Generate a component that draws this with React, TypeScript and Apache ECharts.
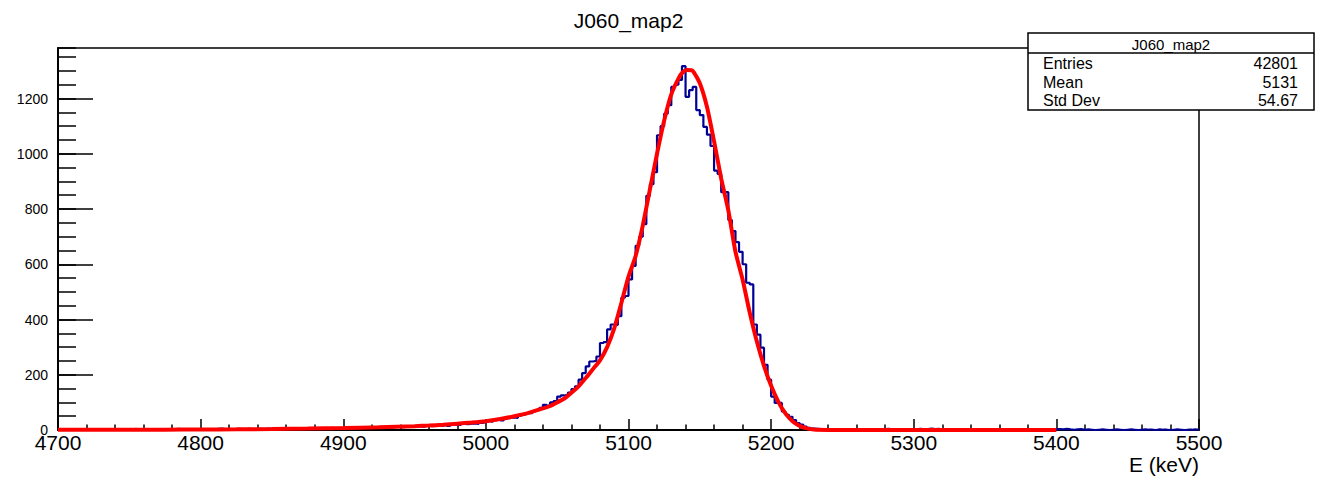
import React, { useEffect, useRef } from "react";
import * as echarts from "echarts";

// ---- data ----
const chartTitle = "J060_map2";
const xAxisName = "E (keV)";
const histLow = 4700;
const histHigh = 5500;
const binWidth = 2.5;

// 320 bins of 2.5 keV from 4700 to 5500
const binCounts = [
  // 4700-4800
  1, 0, 2, 1, 0, 1, 2, 0, 1, 3, 0, 1, 2, 1, 0, 2, 1, 3, 2, 1,
  2, 4, 1, 2, 3, 1, 0, 2, 3, 1, 2, 1, 3, 4, 2, 1, 2, 3, 1, 2,
  // 4800-4900
  2, 3, 1, 2, 4, 5, 3, 2, 2, 3, 4, 2, 3, 5, 2, 3, 4, 3, 5, 4,
  3, 4, 6, 7, 5, 4, 3, 5, 6, 4, 5, 6, 4, 7, 5, 6, 8, 6, 5, 7,
  // 4900-5000
  6, 8, 7, 5, 9, 8, 10, 7, 9, 11, 8, 10, 12, 9, 11, 13, 10, 12, 14, 11,
  13, 15, 12, 16, 14, 15, 17, 16, 18, 15, 19, 20, 18, 22, 21, 23, 24, 22, 26, 28,
  // 5000-5050
  32, 30, 36, 38, 35, 42, 44, 46, 44, 52, 55, 61, 61, 68, 72, 80, 91, 88, 100, 105,
  // 5050-5100
  121, 125, 127, 135, 148, 158, 182, 206, 230, 248, 250, 266, 315, 318, 364, 382, 380, 412, 479, 485,
  // 5100-5150
  545, 594, 667, 700, 745, 848, 890, 933, 1067, 1100, 1145, 1176, 1242, 1250, 1267, 1317, 1206, 1230, 1242, 1158,
  // 5150-5200
  1140, 1097, 1069, 1028, 939, 927, 861, 861, 760, 720, 680, 645, 600, 533, 527, 382, 345, 298, 236, 182,
  // 5200-5250
  121, 98, 98, 67, 55, 48, 36, 25, 20, 12, 8, 5, 4, 3, 2, 3, 1, 2, 1, 0,
  // 5250-5300
  2, 1, 3, 0, 1, 2, 1, 0, 2, 1, 0, 3, 4, 2, 1, 3, 2, 1, 2, 3,
  // 5300-5350
  3, 4, 2, 3, 5, 3, 4, 2, 3, 1, 2, 1, 0, 1, 2, 0, 1, 1, 0, 2,
  // 5350-5400
  1, 0, 2, 1, 0, 1, 2, 0, 1, 0, 1, 2, 1, 3, 1, 0, 1, 2, 1, 0,
  // 5400-5450
  3, 2, 4, 2, 1, 2, 3, 1, 2, 1, 0, 1, 2, 1, 0, 1, 2, 1, 0, 1,
  // 5450-5500
  2, 1, 0, 1, 2, 1, 1, 0, 2, 1, 1, 0, 1, 2, 1, 0, 1, 1, 2, 1,
];

// fitted function
const fitEnergy = [
  4700, 4725, 4750, 4775, 4800, 4825, 4850, 4875, 4900, 4925, 4950, 4960, 4970, 4980, 4990,
  5000, 5010, 5020, 5030, 5040, 5045, 5050, 5055, 5060, 5065, 5070, 5075, 5080, 5085, 5090,
  5095, 5100, 5105, 5110, 5115, 5120, 5125, 5130, 5135, 5138, 5141, 5145, 5150, 5155, 5160,
  5165, 5170, 5175, 5180, 5185, 5190, 5195, 5200, 5205, 5210, 5215, 5220, 5225, 5230, 5240,
  5250, 5300, 5350, 5400,
];
const fitValue = [
  0.5, 0.7, 1, 1.3, 1.8, 2.5, 3.5, 5, 7, 10, 14, 16, 19, 23, 27,
  32, 40, 50, 62, 78, 87, 100, 114, 135, 158, 188, 220, 252, 300, 368,
  460, 555, 630, 740, 870, 1000, 1120, 1215, 1272, 1295, 1303, 1300, 1255, 1170, 1045,
  910, 795, 645, 545, 425, 320, 232, 160, 103, 60, 32, 15, 6, 2, 0.3,
  0, 0, 0, 0,
];

const statsLabels = ["Entries", "Mean", "Std Dev"];
const statsValues = ["42801", "5131", "54.67"];

const FONT = "'Liberation Sans', Arial, Helvetica, sans-serif";

export default function App() {
  const ref = useRef<HTMLDivElement>(null);

  useEffect(() => {
    document.body.style.margin = "0";
    if (!ref.current) return;
    const chart = echarts.init(ref.current, undefined, { renderer: "svg" });

    const histData: [number, number][] = binCounts.map((c, i) => [histLow + i * binWidth, c]);
    histData.push([histHigh, binCounts[binCounts.length - 1]]);
    const fitData = fitEnergy.map((e, i) => [e, fitValue[i]]);

    const yMax = Math.max(...binCounts) * 1.05;

    const left = 58;
    const top = 48;
    const width = 1141;
    const height = 382;

    const boxX = 1028;
    const boxY = 33;
    const boxW = 286;
    const boxH = 77;
    const rowY = [63, 82, 100];

    const graphics: any[] = [
      {
        type: "text",
        x: left + width / 2,
        y: 20,
        z: 100,
        style: {
          text: chartTitle,
          align: "center",
          verticalAlign: "middle",
          fontSize: 21,
          fontFamily: FONT,
          fill: "#000",
        },
      },
      {
        type: "text",
        x: left + width,
        y: 464,
        z: 100,
        style: {
          text: xAxisName,
          align: "right",
          verticalAlign: "middle",
          fontSize: 21,
          fontFamily: FONT,
          fill: "#000",
        },
      },
      {
        type: "rect",
        z: 100,
        shape: { x: boxX, y: boxY, width: boxW, height: boxH },
        style: { fill: "#fff", stroke: "#000", lineWidth: 1.5 },
      },
      {
        type: "line",
        z: 101,
        shape: { x1: boxX, y1: boxY + 20, x2: boxX + boxW, y2: boxY + 20 },
        style: { stroke: "#000", lineWidth: 1.5 },
      },
      {
        type: "text",
        x: boxX + boxW / 2,
        y: boxY + 11,
        z: 102,
        style: {
          text: chartTitle,
          align: "center",
          verticalAlign: "middle",
          fontSize: 15,
          fontFamily: FONT,
          fill: "#000",
        },
      },
    ];
    statsLabels.forEach((lab, i) => {
      graphics.push({
        type: "text",
        x: boxX + 15,
        y: rowY[i],
        z: 102,
        style: {
          text: lab,
          align: "left",
          verticalAlign: "middle",
          fontSize: 16,
          fontFamily: FONT,
          fill: "#000",
        },
      });
      graphics.push({
        type: "text",
        x: boxX + boxW - 16,
        y: rowY[i],
        z: 102,
        style: {
          text: statsValues[i],
          align: "right",
          verticalAlign: "middle",
          fontSize: 16,
          fontFamily: FONT,
          fill: "#000",
        },
      });
    });

    chart.setOption({
      animation: false,
      backgroundColor: "#fff",
      grid: {
        left,
        top,
        width,
        height,
        show: true,
        borderColor: "#000",
        borderWidth: 1.5,
        backgroundColor: "transparent",
        containLabel: false,
      },
      xAxis: {
        type: "value",
        min: histLow,
        max: histHigh,
        interval: 100,
        axisLine: { show: true, onZero: false, lineStyle: { color: "#000", width: 2 } },
        axisTick: { show: true, inside: true, length: 11, lineStyle: { color: "#000", width: 1.5 } },
        minorTick: { show: true, splitNumber: 5, length: 5.5, lineStyle: { color: "#000", width: 1.5 } },
        axisLabel: {
          show: true,
          color: "#000",
          fontSize: 21,
          fontFamily: FONT,
          margin: 2,
          formatter: (v: number) => String(Math.round(v)),
        },
        splitLine: { show: false },
        minorSplitLine: { show: false },
      },
      yAxis: [
        {
          type: "value",
          min: 0,
          max: yMax,
          interval: 200,
          axisLine: { show: true, lineStyle: { color: "#000", width: 2 } },
          axisTick: { show: true, inside: true, length: 35, lineStyle: { color: "#000", width: 1.5 } },
          axisLabel: {
            show: true,
            color: "#000",
            fontSize: 14,
            fontFamily: FONT,
            margin: 10,
            showMaxLabel: false,
            formatter: (v: number) => String(Math.round(v)),
          },
          splitLine: { show: false },
        },
        {
          type: "value",
          min: 0,
          max: yMax,
          interval: 50,
          position: "left",
          axisLine: { show: false },
          axisTick: { show: true, inside: true, length: 18, lineStyle: { color: "#000", width: 1.5 } },
          axisLabel: { show: false },
          splitLine: { show: false },
        },
      ],
      series: [
        {
          type: "line",
          name: "hist",
          data: histData,
          step: "end",
          showSymbol: false,
          symbol: "none",
          yAxisIndex: 0,
          lineStyle: { color: "#000096", width: 2.2 },
          z: 3,
        },
        {
          type: "line",
          name: "fit",
          data: fitData,
          showSymbol: false,
          symbol: "none",
          yAxisIndex: 0,
          smooth: 0.2,
          lineStyle: { color: "#ff0000", width: 4 },
          z: 4,
        },
      ],
      graphic: graphics,
    });

    return () => chart.dispose();
  }, []);

  return (
    <div
      ref={ref}
      style={{ position: "absolute", left: 0, top: 0, width: 1319, height: 478, background: "#fff" }}
    />
  );
}
